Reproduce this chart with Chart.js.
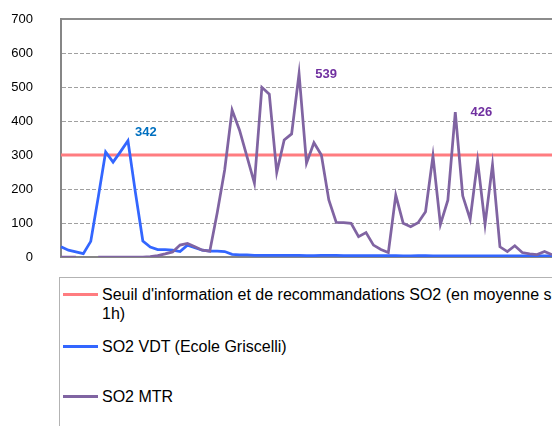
<!DOCTYPE html>
<html>
<head>
<meta charset="utf-8">
<script src="https://cdn.jsdelivr.net/npm/chart.js@4.4.1/dist/chart.umd.min.js"></script>
<style>
  html, body { margin: 0; padding: 0; background: #fff; overflow: hidden; width: 552px; height: 426px; }
  #wrap { position: relative; width: 552px; height: 426px; overflow: hidden; }
  #chart { position: absolute; left: 0; top: 0; }
  #legend { position: absolute; left: 59px; top: 277px; width: 560px; height: 200px; border: 1px solid #b3b3b3;
            font-family: "Liberation Sans", Arial, sans-serif; font-size: 16px; color: #000; }
  .item { position: absolute; left: 3px; display: flex; align-items: flex-start; }
  .swatch { width: 35px; height: 3px; margin-top: 8px; margin-right: 4px; flex: none; }
  .text { width: 470px; line-height: 19px; }
</style>
</head>
<body>
<div id="wrap">
  <canvas id="chart" width="552" height="270"></canvas>
  <div id="legend"></div>
</div>
<script>
// hourly categories (no labels shown on the axis)
const hours = Array.from({ length: 67 }, (_, i) => String(i + 1));

const seuilSO2 = 300;

const so2Vdt = [30, 20, 15, 10, 46, 175, 309, 279, 310, 342, 190, 47, 29, 22, 22, 20, 16, 35, 27, 20,
  17, 17, 16, 8, 6, 6, 5, 5, 5, 5, 5, 5, 5, 4, 4, 5, 5, 5, 4, 4,
  4, 4, 4, 4, 4, 4, 3, 3, 4, 4, 3, 3, 3, 3, 3, 3, 3, 3, 3, 3,
  3, 3, 3, 3, 3, 3, 3];

const so2Mtr = [0, 0, 0, null, null, 0, 0, 0, 0, 0, 0, 0, 1, 4, 9, 15, 35, 40, 30, 20,
  17, 130, 256, 432, 373, 295, 217, 499, 479, 249, 344, 362, 539, 276, 336, 300, 168, 102, 101, 99,
  60, 72, 35, 22, 13, 182, 99, 89, 101, 133, 297, 96, 167, 426, 180, 111, 283, 96, 271, 30,
  16, 33, 13, 9, 7, 16, 7];

const seriesNames = [
  "Seuil d'information et de recommandations SO2 (en moyenne sur 1h)",
  'SO2 VDT (Ecole Griscelli)',
  'SO2 MTR'
];

const yTicks = [0, 100, 200, 300, 400, 500, 600, 700];

const colors = ['#ff7c80', '#3366ff', '#8064a2'];

// value labels next to the peaks
const peakLabelPlugin = {
  id: 'peakLabels',
  afterDatasetsDraw(chart, args, opts) {
    const ctx = chart.ctx;
    ctx.save();
    ctx.font = 'bold 13px "Liberation Sans", Arial, sans-serif';
    ctx.textAlign = 'center';
    ctx.textBaseline = 'middle';
    opts.items.forEach(it => {
      const pt = chart.getDatasetMeta(it.datasetIndex).data[it.index];
      const v = chart.data.datasets[it.datasetIndex].data[it.index];
      ctx.fillStyle = it.color;
      ctx.fillText(String(v), pt.x + it.dx, pt.y + it.dy);
    });
    ctx.restore();
  }
};

Chart.defaults.font.family = '"Liberation Sans", Arial, sans-serif';
Chart.defaults.color = '#000';

const chart = new Chart(document.getElementById('chart'), {
  type: 'line',
  data: {
    labels: hours,
    datasets: [
      { label: seriesNames[0], data: hours.map(() => seuilSO2), borderColor: colors[0], borderWidth: 3, order: 3 },
      { label: seriesNames[1], data: so2Vdt, borderColor: colors[1], borderWidth: 2.75, order: 2 },
      { label: seriesNames[2], data: so2Mtr, borderColor: colors[2], borderWidth: 2.75, order: 1 }
    ]
  },
  options: {
    responsive: false,
    animation: false,
    layout: { autoPadding: false, padding: { top: 19, left: 0, right: 0, bottom: 0 } },
    elements: { point: { radius: 0 }, line: { tension: 0 } },
    plugins: {
      legend: { display: false },
      tooltip: { enabled: false },
      peakLabels: {
        items: [
          { datasetIndex: 1, index: 9, dx: 18, dy: -8, color: '#0070c0' },
          { datasetIndex: 2, index: 32, dx: 27, dy: 1, color: '#7030a0' },
          { datasetIndex: 2, index: 53, dx: 26, dy: 0, color: '#7030a0' }
        ]
      }
    },
    scales: {
      x: {
        ticks: { display: false },
        grid: { display: false, drawTicks: false },
        border: { color: '#868686', width: 2 },
        afterFit: s => { s.height = 13; }
      },
      y: {
        min: 0,
        max: 700,
        afterBuildTicks: s => { s.ticks = yTicks.map(v => ({ value: v })); },
        ticks: { padding: 0, font: { size: 13 }, color: '#000' },
        grid: {
          drawTicks: true,
          tickLength: 28,
          tickColor: 'rgba(0,0,0,0)',
          lineWidth: c => c.tick && c.tick.value === 700 ? 2 : 1,
          color: c => {
            if (c.tick && c.tick.value === 0) return 'rgba(0,0,0,0)';
            return c.tick && c.tick.value === 700 ? '#8c8c8c' : '#a0a0a0';
          }
        },
        border: {
          color: '#868686',
          width: 2,
          dash: c => (c.tick && c.tick.value !== 700) ? [4, 2] : []
        },
        afterFit: s => { s.width = 61; }
      }
    }
  },
  plugins: [peakLabelPlugin]
});

// html legend (text wraps like the original)
const legendTops = [6.5, 58.5, 108.5];
const legendEl = document.getElementById('legend');
chart.data.datasets.forEach((ds, i) => {
  const item = document.createElement('div');
  item.className = 'item';
  item.style.top = legendTops[i] + 'px';
  const sw = document.createElement('div');
  sw.className = 'swatch';
  sw.style.background = ds.borderColor;
  const tx = document.createElement('div');
  tx.className = 'text';
  tx.textContent = ds.label;
  item.appendChild(sw);
  item.appendChild(tx);
  legendEl.appendChild(item);
});
</script>
</body>
</html>
